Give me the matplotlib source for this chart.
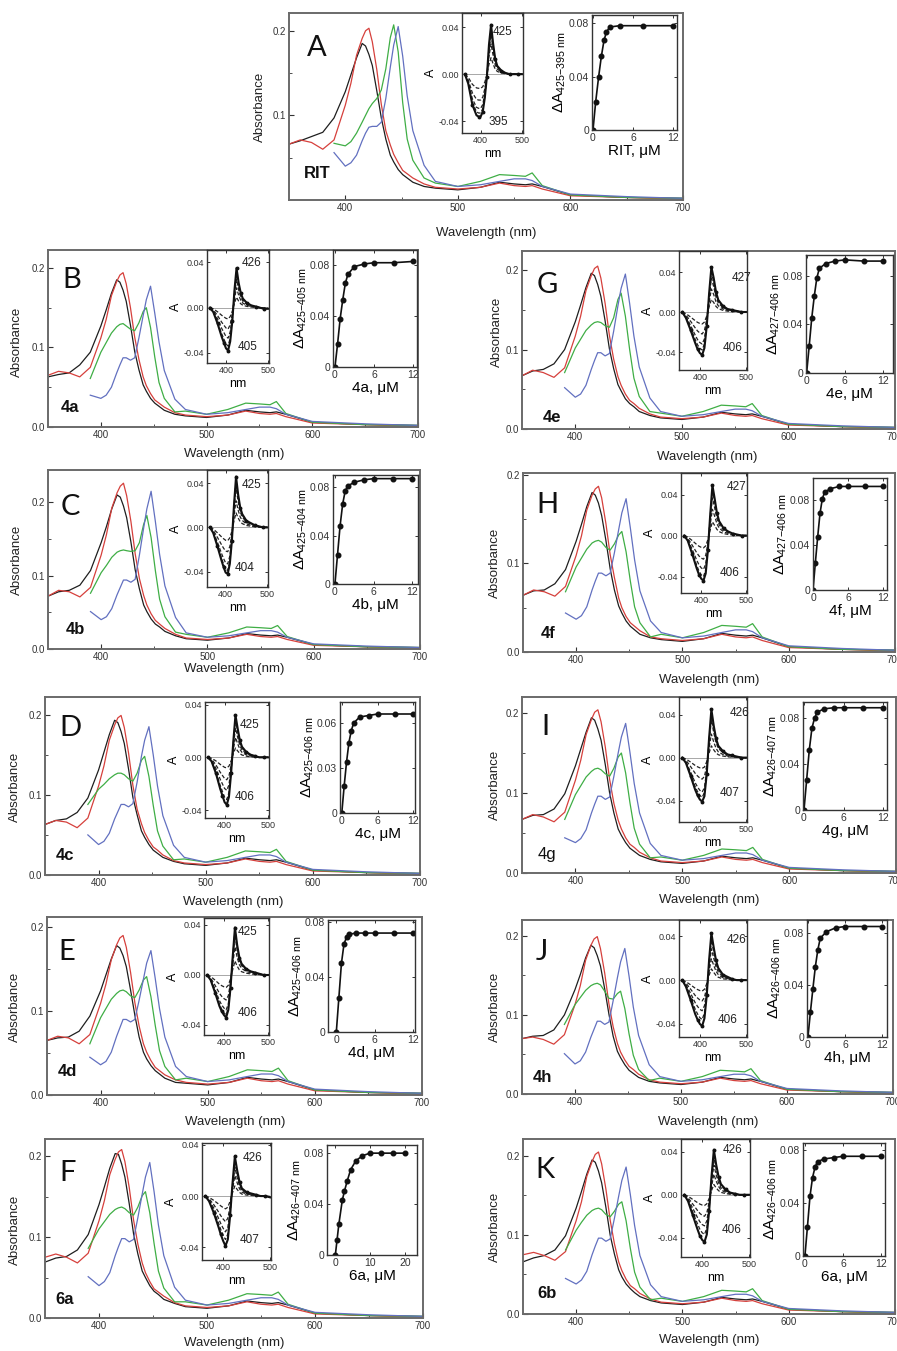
import numpy as np
import matplotlib.pyplot as plt

plt.rcParams['font.family'] = ['Liberation Sans', 'DejaVu Sans']
plt.rcParams['axes.unicode_minus'] = False
plt.rcParams['mathtext.default'] = 'regular'

W, H = 897, 1351

# wavelength grids (nm)
wl_soret = [350, 360, 370, 380, 390, 400, 405, 410, 415, 418, 421, 424, 428, 432, 436, 440, 443, 447, 451, 455, 460, 470]
wl_tail = [480, 500, 520, 537, 550, 560, 566, 575, 600, 650, 700]
wl_diff = [362, 370, 380, 390, 395, 400, 405, 410, 415, 420, 425, 430, 435, 440, 450, 460, 470, 480, 490, 500]
conc = [0, 0.4, 0.8, 1.2, 1.6, 2.0, 3.0, 4.5, 6, 9, 12]

# Q-band region, same in every panel
tail_k = [.014, .012, .015, .021, .019, .018, .019, .016, .006, .003, .002]
tail_r = [.015, .013, .015, .020, .017, .016, .017, .013, .005, .003, .001]
tail_g = [.020, .016, .022, .030, .029, .028, .032, .017, .006, .003, .002]
tail_b = [.022, .016, .018, .022, .025, .025, .023, .016, .007, .004, .002]

# Soret region: black/red from 350 nm, green/blue from 390 nm
A_k = [.066, .070, .075, .080, .097, .128, .148, .168, .185, .182, .172, .159, .129, .097, .072, .053, .045, .036, .030, .026, .021, .016]
A_r = [.066, .071, .068, .060, .071, .112, .138, .171, .191, .200, .203, .187, .154, .113, .082, .065, .054, .044, .035, .031, .026, .019]
A_g = [.067, .064, .069, .079, .092, .100, .108, .114, .120, .130, .155, .192, .207, .175, .115, .072, .047, .026]
A_b = [.056, .040, .044, .053, .070, .079, .086, .087, .087, .092, .120, .157, .183, .205, .170, .123, .082, .041]

B_k = [.063, .066, .068, .078, .094, .127, .147, .168, .185, .182, .172, .158, .128, .095, .072, .053, .045, .036, .030, .026, .021, .016]
B_r = [.065, .070, .068, .063, .075, .112, .135, .165, .183, .191, .194, .180, .150, .113, .085, .063, .052, .042, .034, .030, .025, .018]
B_g = [.061, .094, .106, .118, .126, .129, .130, .127, .123, .121, .131, .145, .150, .125, .088, .056, .036, .019]
B_b = [.040, .036, .040, .050, .068, .078, .087, .087, .084, .087, .112, .140, .160, .177, .143, .107, .071, .035]

C_k = [.072, .078, .080, .087, .107, .145, .167, .191, .210, .207, .195, .179, .146, .108, .082, .060, .051, .041, .034, .030, .024, .018]
C_r = [.072, .080, .078, .071, .084, .128, .156, .192, .213, .222, .226, .209, .174, .130, .096, .073, .060, .048, .039, .034, .028, .020]
C_g = [.076, .104, .114, .125, .132, .134, .135, .134, .133, .134, .145, .170, .182, .152, .107, .068, .044, .023]
C_b = [.051, .040, .044, .055, .074, .084, .094, .094, .091, .095, .128, .165, .191, .215, .174, .129, .086, .043]

D_k = [.063, .068, .070, .078, .096, .131, .153, .175, .193, .190, .179, .164, .132, .097, .075, .055, .047, .038, .031, .027, .022, .017]
D_r = [.063, .068, .066, .059, .071, .111, .136, .168, .187, .196, .199, .184, .152, .112, .082, .064, .053, .043, .035, .031, .025, .018]
D_g = [.088, .107, .113, .120, .125, .127, .127, .125, .120, .117, .127, .143, .148, .123, .087, .055, .036, .019]
D_b = [.050, .038, .042, .052, .070, .079, .088, .088, .085, .089, .116, .148, .168, .185, .150, .111, .074, .037]

E_k = [.065, .068, .069, .076, .094, .124, .143, .162, .178, .175, .166, .153, .125, .095, .069, .051, .043, .035, .029, .025, .020, .015]
E_r = [.065, .070, .068, .061, .072, .109, .132, .161, .179, .187, .190, .176, .146, .110, .082, .061, .051, .041, .033, .029, .024, .018]
E_g = [.061, .092, .103, .114, .121, .124, .125, .123, .118, .116, .125, .137, .141, .117, .083, .053, .034, .018]
E_b = [.045, .036, .040, .051, .070, .080, .090, .090, .087, .090, .113, .138, .157, .172, .139, .103, .069, .034]

F_k = [.069, .074, .076, .084, .103, .140, .162, .185, .203, .202, .190, .174, .141, .104, .079, .058, .050, .040, .033, .029, .023, .018]
F_r = [.075, .079, .075, .068, .080, .120, .145, .177, .196, .205, .208, .193, .161, .121, .091, .068, .056, .045, .036, .032, .027, .019]
F_g = [.086, .110, .119, .128, .134, .136, .137, .135, .130, .127, .137, .151, .156, .130, .092, .058, .037, .020]
F_b = [.051, .040, .045, .056, .077, .088, .098, .098, .094, .097, .124, .153, .174, .192, .156, .115, .077, .038]

G_k = [.067, .073, .075, .082, .100, .135, .156, .178, .196, .193, .182, .167, .136, .101, .076, .056, .048, .038, .032, .028, .022, .017]
G_r = [.067, .074, .071, .065, .077, .117, .142, .174, .193, .202, .205, .190, .158, .118, .088, .066, .055, .044, .036, .032, .026, .019]
G_g = [.071, .102, .113, .124, .131, .134, .135, .134, .130, .128, .140, .163, .171, .142, .100, .064, .041, .022]
G_b = [.052, .040, .044, .055, .075, .086, .096, .096, .092, .095, .123, .155, .177, .195, .158, .117, .078, .039]

H_k = [.064, .069, .070, .077, .093, .125, .144, .164, .180, .177, .168, .154, .126, .094, .070, .052, .044, .035, .029, .025, .020, .016]
H_r = [.064, .070, .068, .063, .074, .109, .131, .160, .177, .184, .187, .174, .145, .110, .084, .061, .050, .040, .033, .029, .024, .017]
H_g = [.068, .096, .106, .116, .123, .125, .126, .124, .118, .115, .122, .132, .136, .113, .080, .051, .033, .017]
H_b = [.044, .037, .041, .051, .070, .080, .089, .089, .086, .089, .112, .138, .157, .173, .140, .104, .069, .035]

I_k = [.067, .072, .073, .080, .099, .134, .155, .176, .194, .191, .180, .166, .135, .100, .075, .055, .047, .038, .031, .027, .022, .017]
I_r = [.067, .073, .070, .064, .076, .116, .141, .173, .192, .201, .204, .189, .157, .117, .087, .066, .055, .044, .036, .032, .026, .019]
I_g = [.067, .098, .109, .120, .127, .130, .131, .129, .124, .121, .131, .145, .150, .125, .088, .056, .036, .019]
I_b = [.044, .038, .043, .054, .075, .086, .096, .096, .092, .095, .121, .150, .170, .187, .151, .112, .075, .037]

J_k = [.070, .073, .074, .081, .100, .132, .151, .172, .188, .185, .175, .162, .133, .101, .073, .054, .046, .037, .030, .026, .021, .016]
J_r = [.070, .072, .069, .063, .075, .113, .137, .169, .188, .196, .199, .184, .153, .114, .085, .064, .053, .043, .035, .031, .025, .018]
J_g = [.088, .113, .122, .131, .137, .139, .140, .138, .130, .121, .120, .127, .130, .108, .076, .049, .031, .017]
J_b = [.051, .038, .042, .053, .072, .082, .092, .092, .088, .091, .118, .147, .167, .184, .149, .110, .074, .037]

K_k = [.066, .071, .074, .081, .099, .134, .155, .177, .195, .192, .181, .166, .135, .100, .076, .056, .047, .038, .032, .027, .022, .017]
K_r = [.075, .078, .074, .068, .079, .118, .142, .174, .193, .202, .205, .190, .158, .119, .089, .066, .055, .044, .036, .032, .026, .019]
K_g = [.081, .106, .116, .125, .131, .133, .134, .132, .126, .123, .130, .139, .142, .118, .083, .053, .034, .018]
K_b = [.045, .038, .043, .054, .075, .086, .096, .096, .092, .095, .121, .149, .169, .186, .151, .112, .074, .037]

# difference spectra at saturation, and trough depths of the dashed intermediate ones
A_d = [0, -.008, -.026, -.035, -.036, -.036, -.032, -.020, -.002, .025, .042, .026, .013, .007, .003, .001, 0, 0, 0, 0]
B_d = [0, -.004, -.014, -.026, -.031, -.036, -.038, -.030, -.012, .015, .035, .022, .013, .008, .004, .002, .001, 0, -.001, -.001]
C_d = [0, -.005, -.017, -.030, -.036, -.041, -.042, -.033, -.012, .020, .046, .030, .018, .012, .006, .004, .002, .001, 0, 0]
D_d = [0, -.003, -.012, -.024, -.029, -.034, -.036, -.030, -.012, .012, .032, .022, .013, .008, .004, .002, .001, 0, 0, 0]
E_d = [0, -.004, -.014, -.025, -.029, -.032, -.034, -.028, -.010, .015, .038, .024, .014, .009, .005, .003, .002, .001, 0, 0]
F_d = [0, -.004, -.013, -.024, -.030, -.035, -.039, -.034, -.015, .010, .031, .020, .011, .006, .003, .002, .001, 0, 0, -.001]
G_d = [0, -.006, -.018, -.031, -.037, -.041, -.043, -.036, -.014, .018, .045, .034, .020, .012, .006, .003, .002, .001, 0, 0]
H_d = [0, -.005, -.018, -.032, -.038, -.042, -.044, -.037, -.014, .020, .049, .036, .022, .014, .007, .004, .002, .001, 0, 0]
I_d = [0, -.005, -.017, -.030, -.035, -.039, -.041, -.036, -.015, .018, .045, .030, .018, .011, .006, .003, .002, .001, 0, 0]
J_d = [0, -.006, -.018, -.031, -.036, -.040, -.042, -.035, -.014, .018, .043, .030, .018, .011, .005, .003, .001, 0, 0, 0]
K_d = [0, -.006, -.019, -.032, -.038, -.042, -.044, -.037, -.015, .017, .042, .028, .017, .010, .005, .002, .001, 0, 0, 0]

A_dl = [-.012, -.022, -.029, -.033]
B_dl = [-.010, -.019, -.027, -.034]
C_dl = [-.012, -.022, -.033, -.039]
D_dl = [-.008, -.017, -.025, -.032]
E_dl = [-.010, -.020, -.028, -.032]
F_dl = [-.010, -.020, -.028, -.034]
G_dl = [-.012, -.022, -.032, -.038]
H_dl = [-.012, -.023, -.033, -.040]
I_dl = [-.010, -.020, -.032, -.037]
J_dl = [-.010, -.019, -.028, -.036]
K_dl = [-.010, -.020, -.029, -.037]

# titrations
A_tx = [0, 0.4, 0.85, 1.25, 1.65, 2.0, 2.5, 4, 7.5, 12]
A_ty = [0, .021, .040, .055, .067, .073, .077, .078, .078, .078]
B_ty = [0, .018, .038, .053, .066, .073, .079, .081, .082, .082, .083]
C_ty = [0, .024, .048, .066, .077, .081, .084, .086, .087, .087, .087]
D_ty = [0, .018, .034, .047, .055, .060, .064, .065, .066, .066, .066]
E_ty = [0, .025, .050, .064, .069, .071, .072, .072, .072, .072, .072]
F_tx = [0, 0.5, 1, 2, 2.6, 3.4, 4.4, 5.9, 7.8, 10, 13, 16.5, 20]
F_ty = [0, .012, .024, .043, .050, .058, .067, .074, .078, .080, .080, .080, .080]
G_ty = [0, .022, .045, .063, .078, .086, .090, .092, .093, .092, .092]
H_ty = [0, .024, .047, .068, .081, .087, .090, .092, .092, .092, .092]
I_ty = [0, .026, .052, .071, .080, .085, .088, .089, .089, .089, .089]
J_ty = [0, .019, .037, .054, .067, .076, .081, .084, .085, .085, .085]
K_ty = [0, .022, .045, .059, .067, .071, .073, .074, .075, .075, .075]

fig = plt.figure(figsize=(8.97, 13.51), dpi=100)


def box(x0, y0, x1, y1):
    return [x0 / W, 1 - y1 / H, (x1 - x0) / W, (y1 - y0) / H]


def ftext(x, y, s, **kw):
    fig.text(x / W, 1 - y / H, s, ha='center', va='center', **kw)


panels = [
    dict(L='A', comp='RIT', k=A_k, r=A_r, g=A_g, b=A_b, d=A_d, dl=A_dl, tx=A_tx, ty=A_ty,
         main=(289, 13, 683, 200), ymax=.221, yt=[.1, .2], Lp=(317, 48), cp=(317, 173),
         xl=(486, 233), yl=(260, 107), dbox=(462, 13, 523, 133), dy=(-.050, .052),
         pk=('425', 503, 32, '395', 498, 122), tbox=(592, 15, 677, 130), txl=(-.15, 12.6),
         tyl=.086, tyt=[0, .04, .08], sub='425-395', tlab='RIT', xt=[0, 6, 12]),
    dict(L='B', comp='4a', k=B_k, r=B_r, g=B_g, b=B_b, d=B_d, dl=B_dl, tx=conc, ty=B_ty,
         main=(48, 250, 418, 427), ymax=.2225, yt=[0, .1, .2], Lp=(72, 280), cp=(70, 408),
         xl=(234, 454), yl=(17, 342), dbox=(207, 250, 269, 363), dy=(-.049, .051),
         pk=('426', 252, 263, '405', 248, 347), tbox=(333, 250, 417, 367), txl=(-.3, 12.6),
         tyl=.092, tyt=[0, .04, .08], sub='425-405', tlab='4a', xt=[0, 6, 12]),
    dict(L='C', comp='4b', k=C_k, r=C_r, g=C_g, b=C_b, d=C_d, dl=C_dl, tx=conc, ty=C_ty,
         main=(48, 470, 420, 649), ymax=.244, yt=[0, .1, .2], Lp=(70, 507), cp=(75, 630),
         xl=(234, 669), yl=(17, 560), dbox=(207, 470, 268, 587), dy=(-.054, .052),
         pk=('425', 252, 485, '404', 245, 568), tbox=(333, 475, 418, 584), txl=(-.3, 12.9),
         tyl=.090, tyt=[0, .04, .08], sub='425-404', tlab='4b', xt=[0, 6, 12]),
    dict(L='D', comp='4c', k=D_k, r=D_r, g=D_g, b=D_b, d=D_d, dl=D_dl, tx=conc, ty=D_ty,
         main=(45, 697, 420, 875), ymax=.222, yt=[0, .1, .2], Lp=(70, 728), cp=(65, 855),
         xl=(233, 902), yl=(15, 787), dbox=(205, 702, 269, 818), dy=(-.046, .042),
         pk=('425', 250, 725, '406', 245, 797), tbox=(340, 702, 415, 813), txl=(-.3, 12.3),
         tyl=.074, tyt=[0, .03, .06], sub='425-406', tlab='4c', xt=[0, 6, 12]),
    dict(L='E', comp='4d', k=E_k, r=E_r, g=E_g, b=E_b, d=E_d, dl=E_dl, tx=conc, ty=E_ty,
         main=(47, 917, 422, 1095), ymax=.212, yt=[0, .1, .2], Lp=(67, 952), cp=(67, 1072),
         xl=(235, 1122), yl=(15, 1007), dbox=(204, 918, 269, 1035), dy=(-.048, .0456),
         pk=('425', 248, 932, '406', 248, 1013), tbox=(328, 920, 415, 1032), txl=(-1.3, 12.3),
         tyl=.0815, tyt=[0, .04, .08], sub='425-406', tlab='4d', xt=[0, 6, 12]),
    dict(L='F', comp='6a', k=F_k, r=F_r, g=F_g, b=F_b, d=F_d, dl=F_dl, tx=F_tx, ty=F_ty,
         main=(45, 1139, 423, 1318), ymax=.221, yt=[0, .1, .2], Lp=(68, 1173), cp=(65, 1300),
         xl=(234, 1343), yl=(15, 1230), dbox=(202, 1143, 271, 1260), dy=(-.050, .0415),
         pk=('426', 253, 1158, '407', 250, 1240), tbox=(327, 1145, 417, 1255), txl=(-2.4, 23.5),
         tyl=.0864, tyt=[0, .04, .08], sub='426-407', tlab='6a', xt=[0, 10, 20]),
    dict(L='G', comp='4e', k=G_k, r=G_r, g=G_g, b=G_b, d=G_d, dl=G_dl, tx=conc, ty=G_ty,
         main=(522, 251, 895, 429), ymax=.224, yt=[0, .1, .2], Lp=(547, 285), cp=(552, 417),
         xl=(707, 457), yl=(497, 332), dbox=(679, 251, 747, 370), dy=(-.058, .061),
         pk=('427', 742, 278, '406', 733, 348), tbox=(806, 255, 893, 373), txl=(-.1, 13.6),
         tyl=.097, tyt=[0, .04, .08], sub='427-406', tlab='4e', xt=[0, 6, 12]),
    dict(L='H', comp='4f', k=H_k, r=H_r, g=H_g, b=H_b, d=H_d, dl=H_dl, tx=conc, ty=H_ty,
         main=(523, 473, 895, 652), ymax=.202, yt=[0, .1, .2], Lp=(547, 505), cp=(548, 633),
         xl=(709, 680), yl=(495, 563), dbox=(681, 473, 747, 593), dy=(-.056, .061),
         pk=('427', 737, 487, '406', 730, 573), tbox=(813, 478, 887, 590), txl=(0, 12.7),
         tyl=.0995, tyt=[0, .04, .08], sub='427-406', tlab='4f', xt=[0, 6, 12]),
    dict(L='I', comp='4g', k=I_k, r=I_r, g=I_g, b=I_b, d=I_d, dl=I_dl, tx=conc, ty=I_ty,
         main=(522, 697, 896, 873), ymax=.220, yt=[0, .1, .2], Lp=(545, 727), cp=(547, 854),
         xl=(709, 900), yl=(495, 785), dbox=(679, 697, 747, 822), dy=(-.060, .0565),
         pk=('426', 740, 713, '407', 730, 793), tbox=(803, 702, 887, 810), txl=(-.15, 12.6),
         tyl=.094, tyt=[0, .04, .08], sub='426-407', tlab='4g', xt=[0, 6, 12], cw='normal'),
    dict(L='J', comp='4h', k=J_k, r=J_r, g=J_g, b=J_b, d=J_d, dl=J_dl, tx=conc, ty=J_ty,
         main=(522, 920, 893, 1094), ymax=.220, yt=[0, .1, .2], Lp=(542, 952), cp=(542, 1077),
         xl=(708, 1122), yl=(495, 1007), dbox=(679, 920, 747, 1037), dy=(-.052, .055),
         pk=('426', 737, 940, '406', 728, 1020), tbox=(807, 920, 887, 1037), txl=(-.15, 12.8),
         tyl=.090, tyt=[0, .04, .08], sub='426-406', tlab='4h', xt=[0, 6, 12]),
    dict(L='K', comp='6b', k=K_k, r=K_r, g=K_g, b=K_b, d=K_d, dl=K_dl, tx=conc, ty=K_ty,
         main=(523, 1139, 895, 1314), ymax=.2215, yt=[0, .1, .2], Lp=(545, 1170), cp=(547, 1293),
         xl=(709, 1340), yl=(495, 1227), dbox=(681, 1139, 750, 1257), dy=(-.058, .052),
         pk=('426', 733, 1150, '406', 732, 1230), tbox=(803, 1143, 885, 1256), txl=(-.3, 12.6),
         tyl=.085, tyt=[0, .04, .08], sub='426-406', tlab='6a', xt=[0, 6, 12]),
]

cols = dict(k='#1e1e1e', r='#d6403c', g='#3fae45', b='#6270c0')

for p in panels:
    # main spectra
    ax = fig.add_axes(box(*p['main']))
    ax.plot(wl_soret + wl_tail, p['k'] + tail_k, color=cols['k'], lw=0.9)
    ax.plot(wl_soret + wl_tail, p['r'] + tail_r, color=cols['r'], lw=0.9)
    ax.plot(wl_soret[4:] + wl_tail, p['g'] + tail_g, color=cols['g'], lw=0.9)
    ax.plot(wl_soret[4:] + wl_tail, p['b'] + tail_b, color=cols['b'], lw=0.9)
    ax.set_xlim(350, 700)
    ax.set_ylim(0, p['ymax'])
    ax.set_xticks([400, 500, 600, 700])
    ax.set_xticks([450, 550, 650], minor=True)
    ax.set_yticks(p['yt'])
    ax.set_yticklabels(['%.1f' % v for v in p['yt']])
    ax.set_yticks([.05, .15], minor=True)
    ax.tick_params(which='both', direction='in', labelsize=7, colors='#333', pad=2)
    ax.tick_params(which='major', length=3.5, width=0.8)
    ax.tick_params(which='minor', length=2, width=0.6)
    for s in ax.spines.values():
        s.set_color('#6a6a6a')
        s.set_linewidth(1.4)
    ftext(*p['xl'], 'Wavelength (nm)', fontsize=9.5, color='#222')
    ftext(*p['yl'], 'Absorbance', fontsize=9.5, color='#222', rotation=90)
    ftext(*p['Lp'], p['L'], fontsize=21, family='Lato', color='#111')
    ftext(*p['cp'], p['comp'], fontsize=12, fontweight=p.get('cw', 'bold'), color='#111')

    # difference spectra inset
    ad = fig.add_axes(box(*p['dbox']))
    solid = np.array(p['d'])
    ad.axhline(0, color='#999', lw=0.6)
    for lev in p['dl']:
        ad.plot(wl_diff, solid * lev / solid.min(), color='#222', lw=0.9, ls=(0, (3, 1.6)))
    ad.plot(wl_diff, solid, color='#111', lw=1.5, marker='o', ms=1.8, markevery=2)
    ad.set_xlim(355, 502)
    ad.set_ylim(*p['dy'])
    ad.set_xticks([400, 500])
    ad.set_yticks([-.04, 0, .04])
    ad.set_yticklabels(['-0.04', '0.00', '0.04'])
    ad.tick_params(direction='in', length=2.5, width=0.7, labelsize=6.5, colors='#333', pad=2,
                   top=True, right=True)
    ad.set_xlabel('nm', fontsize=9, labelpad=2)
    ad.set_ylabel('A', fontsize=9, labelpad=1)
    for s in ad.spines.values():
        s.set_color('#333')
        s.set_linewidth(1.0)
    ftext(p['pk'][1], p['pk'][2], p['pk'][0], fontsize=8.5, color='#222')
    ftext(p['pk'][4], p['pk'][5], p['pk'][3], fontsize=8.5, color='#222')

    # titration inset
    at = fig.add_axes(box(*p['tbox']))
    at.plot(p['tx'], p['ty'], color='#111', lw=1.2, marker='o', ms=3.3)
    at.set_xlim(*p['txl'])
    at.set_ylim(0, p['tyl'])
    at.set_xticks(p['xt'])
    at.set_yticks(p['tyt'])
    at.set_yticklabels(['0'] + ['%.2f' % v for v in p['tyt'][1:]])
    at.tick_params(direction='in', length=2.5, width=0.7, labelsize=7.5, colors='#333', pad=2,
                   top=True, right=True)
    at.set_xlabel(p['tlab'] + ', \u03bcM', fontsize=11, labelpad=1)
    at.set_ylabel('\u0394A$_{%s\\ nm}$' % p['sub'].replace('-', '{-}'), fontsize=11, labelpad=1)
    for s in at.spines.values():
        s.set_color('#333')
        s.set_linewidth(1.0)

fig.savefig('out.png', dpi=100, facecolor='white')
